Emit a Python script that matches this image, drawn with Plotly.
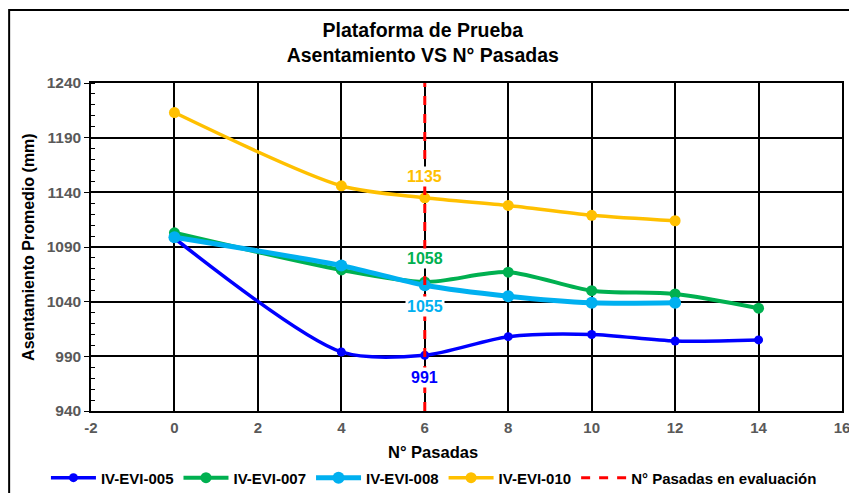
import plotly.graph_objects as go

pasadas = [0, 4, 6, 8, 10, 12, 14]
evi_005 = [1098, 994, 991, 1008, 1010, 1004, 1005]
evi_007 = [1103, 1069, 1058, 1067, 1050, 1047, 1034]
evi_008 = [1099, 1073, 1055, 1045, 1039, 1039]
evi_010 = [1213, 1146, 1135, 1128, 1119, 1114]
eval_x = [6, 6]
eval_y = [940, 1240]
x_ticks = [-2, 0, 2, 4, 6, 8, 10, 12, 14, 16]
x_ticktext = ["-2", "0", "2", "4", "6", "8", "10", "12", "14", "16"]

font = "Arial, Liberation Sans, sans-serif"

series = [
    ("IV-EVI-005", evi_005, "#0000FF", 3.5, 9),
    ("IV-EVI-007", evi_007, "#00B050", 4, 11),
    ("IV-EVI-008", evi_008, "#00B0F0", 5, 12),
    ("IV-EVI-010", evi_010, "#FFC000", 3.5, 11),
]

fig = go.Figure()
for name, vals, color, lw, ms in series:
    fig.add_trace(go.Scatter(
        x=pasadas[:len(vals)], y=vals, name=name, mode="lines+markers",
        line=dict(color=color, width=lw, shape="spline", smoothing=0.8),
        marker=dict(color=color, size=ms),
    ))

fig.add_trace(go.Scatter(
    x=eval_x, y=eval_y, name="N° Pasadas en evaluación", mode="lines",
    line=dict(color="#FF0000", width=3, dash="dash"),
))

# etiquetas de valor en N° pasadas = 6
labels = [
    (evi_010[2], "#FFC000", -21),
    (evi_007[2], "#00B050", -23),
    (evi_008[2], "#00B0F0", 21),
    (evi_005[2], "#0000FF", 22),
]
for val, color, dy in labels:
    fig.add_annotation(
        x=6, y=val, text="<b>%d</b>" % val, showarrow=False, yshift=-dy,
        font=dict(family=font, size=16, color=color), bgcolor="white",
    )

# títulos de ejes
fig.add_annotation(
    xref="paper", yref="paper", x=0.455, y=-0.125, xanchor="center",
    yanchor="middle", text="<b>N° Pasadas</b>", showarrow=False,
    font=dict(family=font, size=16.5, color="black"),
)
fig.add_annotation(
    xref="paper", yref="paper", x=-0.084, y=0.5, xanchor="center",
    yanchor="middle", textangle=-90, text="<b>Asentamiento Promedio (mm)</b>",
    showarrow=False, font=dict(family=font, size=16, color="black"),
)

# borde exterior del gráfico
fig.add_shape(
    type="rect", xref="paper", yref="paper", x0=-0.109, x1=1.02, y0=-0.3, y1=1.2226,
    line=dict(color="#000", width=2), layer="below",
)

fig.update_layout(
    width=849, height=493,
    margin=dict(l=91, r=7, t=83, b=82, autoexpand=False),
    paper_bgcolor="white", plot_bgcolor="white",
    font=dict(family=font, color="#595959", size=13),
    title=dict(
        text="<b>Plataforma de Prueba<br>Asentamiento VS N° Pasadas</b>",
        x=0.498, xanchor="center", y=0.925, yanchor="middle",
        font=dict(family=font, size=19.5, color="black"),
    ),
    showlegend=True,
    legend=dict(
        orientation="h", x=-0.06, xanchor="left", y=-0.204, yanchor="middle",
        font=dict(family=font, size=15, color="black", weight="bold"),
        itemwidth=45, tracegroupgap=0,
    ),
    xaxis=dict(
        range=[-2, 16], tickvals=x_ticks, ticktext=x_ticktext, showgrid=True,
        gridcolor="#000", gridwidth=1.5, zeroline=False, showline=True,
        linecolor="#000", linewidth=1.5, mirror=True, ticks="outside", ticklen=2,
        tickcolor="white", automargin=False, ticklabeloverflow="allow",
        tickfont=dict(family=font, size=15, color="#595959", weight="bold"),
    ),
    yaxis=dict(
        range=[940, 1240], dtick=50, tick0=940, showgrid=True, gridcolor="#000",
        gridwidth=1.5, zeroline=False, showline=True, linecolor="#000",
        linewidth=1.5, mirror=True, ticks="outside", ticklen=5, tickcolor="#000",
        automargin=False,
        tickfont=dict(family=font, size=15.5, color="#595959", weight="bold"),
        minor=dict(dtick=10, ticks="inside", ticklen=4, tickcolor="#000",
                   showgrid=False),
    ),
)

fig.write_html("out.html", config={"displayModeBar": False},
               post_script="document.body.style.margin='0';")
